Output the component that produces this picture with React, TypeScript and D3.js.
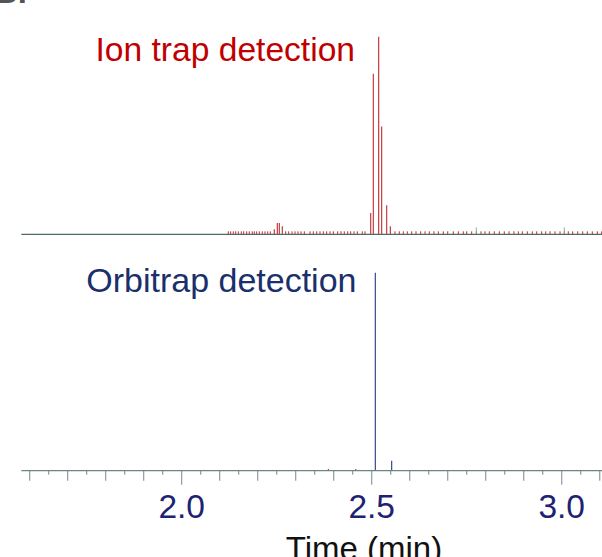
// Ion trap vs Orbitrap chromatogram (stick plot)
import React, { useEffect, useRef } from 'react';
import * as d3 from 'd3';

// Ion trap peaks (time in min, relative intensity %)
const ionTrapTimes = [2.2437, 2.2516, 2.2569, 2.2648, 2.4974, 2.5042, 2.5184, 2.5263, 2.5395, 2.549];
const ionTrapValues = [2.5, 5.7, 5.7, 4.1, 10.8, 81.2, 100, 54.5, 14.7, 4.1];

// Ion trap baseline noise sticks
const noiseTimes = [
  2.1227, 2.129, 2.1358, 2.1422, 2.149, 2.1569, 2.1632, 2.1711, 2.1779, 2.1858, 2.1911, 2.1974,
  2.2043, 2.2121, 2.2192, 2.2264, 2.2332, 2.2737, 2.2816, 2.2903, 2.2982, 2.3061, 2.314, 2.3227,
  2.3377, 2.3463, 2.3553, 2.364, 2.3727, 2.3816, 2.3903, 2.399, 2.4105, 2.4192, 2.4279, 2.4369,
  2.4448, 2.4534, 2.4621, 2.4753, 2.4824,
  2.5613, 2.5726, 2.5832, 2.5937, 2.6053, 2.6166, 2.6289, 2.6403, 2.6516, 2.6639, 2.6753, 2.6884,
  2.7, 2.7147, 2.7279, 2.741, 2.75, 2.7631, 2.7753, 2.7876, 2.7981, 2.8095, 2.8226, 2.8358, 2.8489,
  2.8613, 2.8744, 2.8858, 2.8963, 2.9095, 2.9226, 2.9342, 2.9473, 2.9579, 2.9692, 2.9823, 2.9955,
  3.0068, 3.0173, 3.0289, 3.0421, 3.0552, 3.0673, 3.0805, 3.0936, 3.1052,
];
const noiseValues = noiseTimes.map(() => 1.5);

// small green markers in ion trap trace
const greenTimes = [2.7753, 3.0068];
const greenValues = [3.5, 3.5];

// Orbitrap peaks
const orbiTimes = [2.386, 2.458, 2.5095, 2.5526];
const orbiValues = [0.8, 0.8, 100, 5];
const orbiColors = ['#c0282d', '#c0282d', '#24397a', '#24397a'];

// axis ticks
const minorTicks = [1.65, 1.75, 1.85, 1.95, 2.05, 2.15, 2.25, 2.35, 2.45, 2.55, 2.65, 2.75, 2.85, 2.95, 3.05];
const mediumTicks = [1.6, 1.7, 1.8, 1.9, 2.1, 2.2, 2.3, 2.4, 2.6, 2.7, 2.8, 2.9, 3.1];
const majorTicks = [2.0, 2.5, 3.0];
const tickLabels = ['2.0', '2.5', '3.0'];

const FONT = '"Liberation Sans", Arial, Helvetica, sans-serif';

const App: React.FC = () => {
  const ref = useRef<SVGSVGElement>(null);

  useEffect(() => {
    if (!ref.current) return;
    const svg = d3.select(ref.current);
    svg.selectAll('*').remove();

    const width = 602;
    const height = 557;

    const x = d3.scaleLinear().domain([1.578, 3.106]).range([21.3, 602]);
    const yTop = d3.scaleLinear().domain([0, 100]).range([234.3, 36.7]);
    const yBot = d3.scaleLinear().domain([0, 100]).range([470.7, 272.7]);

    svg.append('rect').attr('width', width).attr('height', height).attr('fill', 'white');

    // cut-off panel letter
    svg.append('text')
      .attr('x', -6).attr('y', 3)
      .style('font-family', FONT).style('font-size', '33px').style('font-weight', 'bold')
      .attr('fill', '#555').text('B.');

    // Ion trap trace
    const top = svg.append('g');
    top.selectAll('line.noise')
      .data(noiseTimes)
      .join('line')
      .attr('class', 'noise')
      .attr('x1', d => x(d)).attr('x2', d => x(d))
      .attr('y1', yTop(0)).attr('y2', (_, i) => yTop(noiseValues[i]))
      .attr('stroke', '#c0282d').attr('stroke-width', 1);

    top.selectAll('line.green')
      .data(greenTimes)
      .join('line')
      .attr('class', 'green')
      .attr('x1', d => x(d)).attr('x2', d => x(d))
      .attr('y1', yTop(0)).attr('y2', (_, i) => yTop(greenValues[i]))
      .attr('stroke', '#8fb08f').attr('stroke-width', 1);

    top.selectAll('line.peak')
      .data(ionTrapTimes)
      .join('line')
      .attr('class', 'peak')
      .attr('x1', d => x(d)).attr('x2', d => x(d))
      .attr('y1', yTop(0)).attr('y2', (_, i) => yTop(ionTrapValues[i]))
      .attr('stroke', '#c0282d').attr('stroke-width', 1.1);

    top.append('line')
      .attr('x1', x(1.578)).attr('x2', width)
      .attr('y1', yTop(0)).attr('y2', yTop(0))
      .attr('stroke', '#4f6a63').attr('stroke-width', 1.3);

    top.append('text')
      .attr('x', 355).attr('y', 61)
      .attr('text-anchor', 'end')
      .style('font-family', FONT).style('font-size', '33.6px')
      .attr('fill', '#c00000')
      .text('Ion trap detection');

    // Orbitrap trace
    const bot = svg.append('g');
    bot.selectAll('line.peak')
      .data(orbiTimes)
      .join('line')
      .attr('class', 'peak')
      .attr('x1', d => x(d)).attr('x2', d => x(d))
      .attr('y1', yBot(0)).attr('y2', (_, i) => yBot(orbiValues[i]))
      .attr('stroke', (_, i) => orbiColors[i]).attr('stroke-width', 1.1);

    bot.append('text')
      .attr('x', 356.5).attr('y', 291.5)
      .attr('text-anchor', 'end')
      .style('font-family', FONT).style('font-size', '34px')
      .attr('fill', '#1a2f6b')
      .text('Orbitrap detection');

    // x axis
    const axis = svg.append('g');
    const tickColor = '#8c9c9c';
    axis.selectAll('line.minor')
      .data(minorTicks)
      .join('line')
      .attr('x1', d => x(d)).attr('x2', d => x(d))
      .attr('y1', yBot(0)).attr('y2', yBot(0) + 4)
      .attr('stroke', tickColor).attr('stroke-width', 1.2);
    axis.selectAll('line.medium')
      .data(mediumTicks)
      .join('line')
      .attr('x1', d => x(d)).attr('x2', d => x(d))
      .attr('y1', yBot(0)).attr('y2', yBot(0) + 10)
      .attr('stroke', tickColor).attr('stroke-width', 1.2);
    axis.selectAll('line.major')
      .data(majorTicks)
      .join('line')
      .attr('x1', d => x(d)).attr('x2', d => x(d))
      .attr('y1', yBot(0)).attr('y2', yBot(0) + 14)
      .attr('stroke', tickColor).attr('stroke-width', 1.2);
    axis.append('line')
      .attr('x1', x(1.578)).attr('x2', width)
      .attr('y1', yBot(0)).attr('y2', yBot(0))
      .attr('stroke', '#6f8585').attr('stroke-width', 1.3);

    axis.selectAll('text.label')
      .data(majorTicks)
      .join('text')
      .attr('x', d => x(d)).attr('y', 518)
      .attr('text-anchor', 'middle')
      .style('font-family', FONT).style('font-size', '33.5px')
      .attr('fill', '#1e2272')
      .text((_, i) => tickLabels[i]);

    axis.append('text')
      .attr('x', 364).attr('y', 560)
      .attr('text-anchor', 'middle')
      .style('font-family', FONT).style('font-size', '33px')
      .attr('fill', '#111')
      .text('Time (min)');
  }, []);

  return (
    <svg ref={ref} width={602} height={557}
      style={{ position: 'absolute', left: 0, top: 0, display: 'block' }} />
  );
};

export default App;
